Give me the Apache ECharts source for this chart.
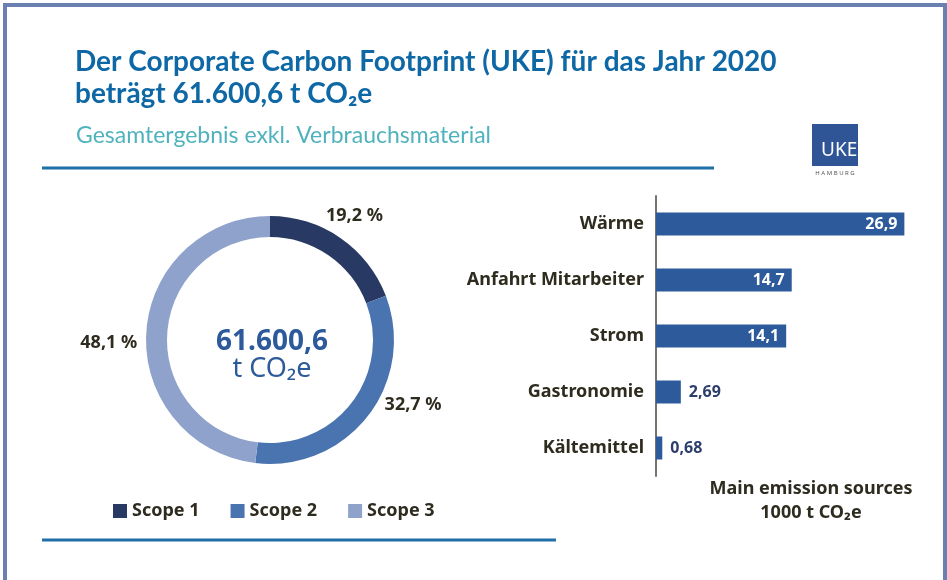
<!DOCTYPE html>
<html>
<head>
<meta charset="utf-8">
<script src="https://cdn.jsdelivr.net/npm/echarts@6/dist/echarts.min.js"></script>
<style>
  html, body { margin: 0; padding: 0; background: #fff; }
  #chart { width: 947px; height: 580px; }
</style>
</head>
<body>
<div id="chart"></div>
<script>
// Scope-Anteile (Prozent)
const scopeNames = ['Scope 1', 'Scope 2', 'Scope 3'];
const scopeShares = [19.2, 32.7, 48.1];
const scopeColors = ['#283a63', '#4a74b0', '#8fa2cc'];

// Hauptemissionsquellen, 1000 t CO2e
const sources = ['Wärme', 'Anfahrt Mitarbeiter', 'Strom', 'Gastronomie', 'Kältemittel'];
const sourceValues = [26.9, 14.7, 14.1, 2.69, 0.68];

const totalText = '61.600,6';
const titleFont = 'Lato, "Noto Sans", sans-serif';
const fontFam = '"Noto Sans", sans-serif';
const darkText = '#2e2b1f';
const blue = '#0f68a6';

const fmt = v => String(v).replace('.', ',');

// kleine Verschiebungen der Prozent-Labels
const labelShift = [[-25, -14], [4, -18], [6, 11]];

let chart = echarts.init(document.getElementById('chart'));

let option = {
  backgroundColor: '#fff',
  animation: false,
  title: [
    {
      text: 'Der Corporate Carbon Footprint (UKE) für das Jahr 2020\nbeträgt 61.600,6 t CO₂e',
      left: 70, top: 41,
      textStyle: { color: blue, fontFamily: titleFont, fontWeight: 'bold', fontSize: 28, lineHeight: 32 }
    },
    {
      text: 'Gesamtergebnis exkl. Verbrauchsmaterial',
      left: 71, top: 119,
      textStyle: { color: '#4fb2bc', fontFamily: titleFont, fontWeight: 'normal', fontSize: 23 }
    },
    {
      text: totalText,
      subtext: 't CO₂e',
      left: 267, top: 323, textAlign: 'center', itemGap: 0,
      textStyle: { color: '#2d5a9b', fontFamily: fontFam, fontWeight: 'bold', fontSize: 28 },
      subtextStyle: { color: '#2d5a9b', fontFamily: fontFam, fontSize: 27 }
    },
    {
      text: 'Main emission sources\n1000 t CO₂e',
      left: 806, top: 472, textAlign: 'center',
      textStyle: { color: darkText, fontFamily: fontFam, fontWeight: 'bold', fontSize: 18, lineHeight: 24, align: 'center' }
    }
  ],
  legend: {
    data: scopeNames,
    left: 108, top: 497,
    icon: 'rect', itemWidth: 14, itemHeight: 14, itemGap: 31,
    textStyle: { color: darkText, fontFamily: fontFam, fontWeight: 'bold', fontSize: 18 }
  },
  grid: { left: 656, top: 196, width: 277, height: 280 },
  xAxis: {
    type: 'value', min: 0, max: 30,
    show: false
  },
  yAxis: {
    type: 'category', data: sources, inverse: true,
    axisLine: { show: true, lineStyle: { color: '#77736a', width: 2 } },
    axisTick: { show: false },
    axisLabel: { color: darkText, fontFamily: fontFam, fontWeight: 'bold', fontSize: 18, margin: 12 }
  },
  series: [
    {
      type: 'pie',
      center: [270, 340],
      radius: [103, 124],
      startAngle: 90,
      clockwise: true,
      color: scopeColors,
      label: {
        show: true, position: 'outside',
        formatter: p => fmt(p.value) + ' %',
        color: darkText, fontFamily: fontFam, fontWeight: 'bold', fontSize: 18
      },
      labelLine: { show: false, length: 10, length2: 0 },
      labelLayout: p => ({ dx: labelShift[p.dataIndex][0], dy: labelShift[p.dataIndex][1] }),
      emphasis: { disabled: true },
      data: scopeNames.map((n, i) => ({ name: n, value: scopeShares[i] }))
    },
    {
      type: 'bar',
      barWidth: 23,
      itemStyle: { color: '#2d5a9b' },
      data: sourceValues.map(v => ({
        value: v,
        label: v > 5
          ? { position: 'insideRight', color: '#fff', distance: 7 }
          : { position: 'right', color: '#2d3e6b', distance: 8 }
      })),
      label: {
        show: true,
        formatter: p => fmt(p.value),
        fontFamily: fontFam, fontWeight: 'bold', fontSize: 16
      }
    }
  ],
  graphic: [
    // Rahmen
    { type: 'rect', shape: { x: 5, y: 5, width: 940, height: 600 }, style: { fill: null, stroke: '#6a80b0', lineWidth: 4 }, silent: true },
    // Trennlinien
    { type: 'line', shape: { x1: 42, y1: 168, x2: 714, y2: 168 }, style: { stroke: '#1f6fa8', lineWidth: 3 } },
    { type: 'line', shape: { x1: 42, y1: 540, x2: 556, y2: 540 }, style: { stroke: '#1f6fa8', lineWidth: 3 } },
    // UKE Logo
    { type: 'rect', shape: { x: 812, y: 124, width: 46, height: 42 }, style: { fill: '#2f5597' } },
    { type: 'text', x: 821, y: 141, style: { text: 'UKE', fill: '#fff', fontFamily: fontFam, fontSize: 19, fontWeight: 'normal' } },
    { type: 'text', x: 835, y: 170, style: { text: 'H A M B U R G', fill: '#555', fontFamily: fontFam, fontSize: 6, align: 'center' } }
  ]
};

chart.setOption(option);
</script>
</body>
</html>
